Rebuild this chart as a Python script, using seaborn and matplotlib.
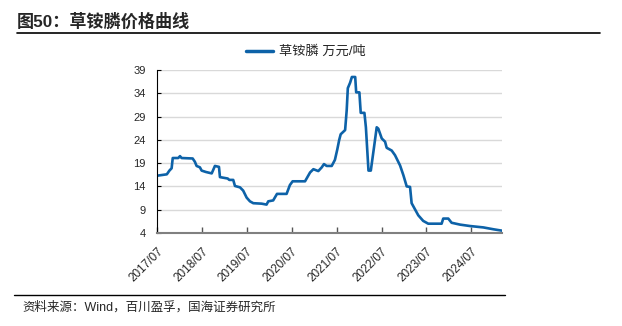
import matplotlib
matplotlib.use("Agg")
import matplotlib.pyplot as plt
import matplotlib.dates as mdates
from matplotlib.lines import Line2D
import pandas as pd
import seaborn as sns

# Glufosinate price, 10k CNY per tonne
dates = [
    "2017-07-01", "2017-09-19", "2017-10-10", "2017-10-28", "2017-11-06",
    "2017-12-21", "2018-01-04", "2018-01-17", "2018-04-17", "2018-05-05",
    "2018-05-19", "2018-06-15", "2018-06-29", "2018-08-03", "2018-09-19",
    "2018-10-15", "2018-11-17", "2018-11-25", "2019-01-27", "2019-02-09",
    "2019-03-13", "2019-03-27", "2019-05-07", "2019-06-02", "2019-06-30",
    "2019-07-27", "2019-08-23", "2019-10-30", "2019-12-09", "2019-12-23",
    "2020-02-01", "2020-03-03", "2020-05-20", "2020-06-16", "2020-07-08",
    "2020-10-17", "2020-11-27", "2020-12-24", "2021-02-02", "2021-03-02",
    "2021-03-20", "2021-04-11", "2021-05-22", "2021-06-17", "2021-07-06",
    "2021-07-22", "2021-08-03", "2021-09-08", "2021-09-21", "2021-09-30",
    "2021-10-19", "2021-11-02", "2021-11-29", "2021-12-07", "2022-01-02",
    "2022-01-13", "2022-02-12", "2022-02-24", "2022-03-17", "2022-04-05",
    "2022-05-01", "2022-05-23", "2022-06-05", "2022-07-03", "2022-07-30",
    "2022-08-12", "2022-09-22", "2022-10-19", "2022-11-29", "2022-12-26",
    "2023-01-22", "2023-02-18", "2023-03-03", "2023-03-30", "2023-04-26",
    "2023-06-05", "2023-07-16", "2023-11-02", "2023-11-15", "2023-12-26",
    "2024-01-22", "2024-03-31", "2024-06-19", "2024-10-06", "2024-12-27",
    "2025-03-07",
]
prices = [
    16.3, 16.6, 17.4, 17.9, 20.1,
    20.1, 20.5, 20.1, 20.0, 19.3,
    18.4, 18.1, 17.4, 17.1, 16.8,
    18.4, 18.2, 16.0, 15.7, 15.4,
    15.4, 14.1, 13.8, 13.1, 11.6,
    10.8, 10.4, 10.3, 10.1, 10.8,
    11.0, 12.4, 12.4, 14.3, 15.1,
    15.1, 17.0, 17.7, 17.3, 18.1,
    18.8, 18.4, 18.4, 19.7, 21.9,
    24.0, 25.2, 26.1, 30.4, 35.1,
    36.3, 37.5, 37.5, 34.2, 34.2,
    29.8, 29.8, 26.7, 17.4, 17.4,
    22.4, 26.7, 26.4, 24.3, 23.6,
    22.3, 21.7, 20.7, 18.5, 16.4,
    14.0, 13.9, 10.4, 9.1, 7.8,
    6.6, 6.0, 6.0, 7.1, 7.1,
    6.2, 5.8, 5.5, 5.2, 4.8,
    4.5,
]
y_ticks = [4, 9, 14, 19, 24, 29, 34, 39]
series_name = "草铵膦 万元/吨"
title_text = "图50：草铵膦价格曲线"
source_text = "资料来源：Wind，百川盈孚，国海证券研究所"

df = pd.DataFrame({"date": pd.to_datetime(dates), "price": prices})

sns.set_theme(style="white")
plt.rcParams["font.family"] = ["Liberation Sans", "Noto Sans CJK SC", "DejaVu Sans"]

W, H = 622, 326
fig = plt.figure(figsize=(W / 100, H / 100), dpi=100)
ax = fig.add_axes([157 / W, 1 - 233 / H, (502 - 157) / W, (233 - 70) / H])

sns.lineplot(data=df, x="date", y="price", ax=ax, color="#0D62A8",
             linewidth=1.9, label=series_name)

ax.set_xlim(pd.Timestamp("2017-07-01"), pd.Timestamp("2025-03-07"))
ax.set_ylim(4, 39)
ax.set_yticks(y_ticks)
ax.set_xlabel("")
ax.set_ylabel("")

ax.xaxis.set_major_locator(mdates.YearLocator(month=7, day=1))
ax.xaxis.set_major_formatter(mdates.DateFormatter("%Y/%m"))

ax.yaxis.grid(True, color="#d9d9d9", linewidth=1.0)
ax.xaxis.grid(False)
ax.set_axisbelow(True)

for s in ("top", "right"):
    ax.spines[s].set_visible(False)
ax.spines["left"].set_color("black")
ax.spines["left"].set_linewidth(0.8)
ax.spines["bottom"].set_color("#808080")
ax.spines["bottom"].set_linewidth(1.5)

ax.tick_params(axis="y", direction="in", length=3, width=0.8, color="black",
               labelsize=8, pad=8, left=True)
ax.tick_params(axis="x", direction="in", length=4, width=1.0, color="#555555",
               labelsize=8.5, pad=9, bottom=True)
for lab in ax.get_xticklabels():
    lab.set_rotation(45)
    lab.set_ha("right")
    lab.set_va("top")
    lab.set_rotation_mode("anchor")

leg = ax.legend(loc="center", bbox_to_anchor=(306 / W, 1 - 52 / H),
                bbox_transform=fig.transFigure, frameon=False,
                fontsize=9.5, handlelength=2.0, handletextpad=0.5)
for h in leg.get_lines():
    h.set_linewidth(2.5)

fig.text(17 / W, 1 - 21 / H, title_text, fontsize=12.3, fontweight="bold",
         ha="left", va="center")
fig.add_artist(Line2D([17 / W, 600 / W], [1 - 33 / H, 1 - 33 / H],
                      transform=fig.transFigure, color="black", linewidth=1.2))
fig.add_artist(Line2D([14 / W, 505 / W], [1 - 295 / H, 1 - 295 / H],
                      transform=fig.transFigure, color="black", linewidth=1.0))
fig.text(22 / W, 1 - 307 / H, source_text, fontsize=9, ha="left", va="center")

fig.savefig("out.png", dpi=100, facecolor="white")
